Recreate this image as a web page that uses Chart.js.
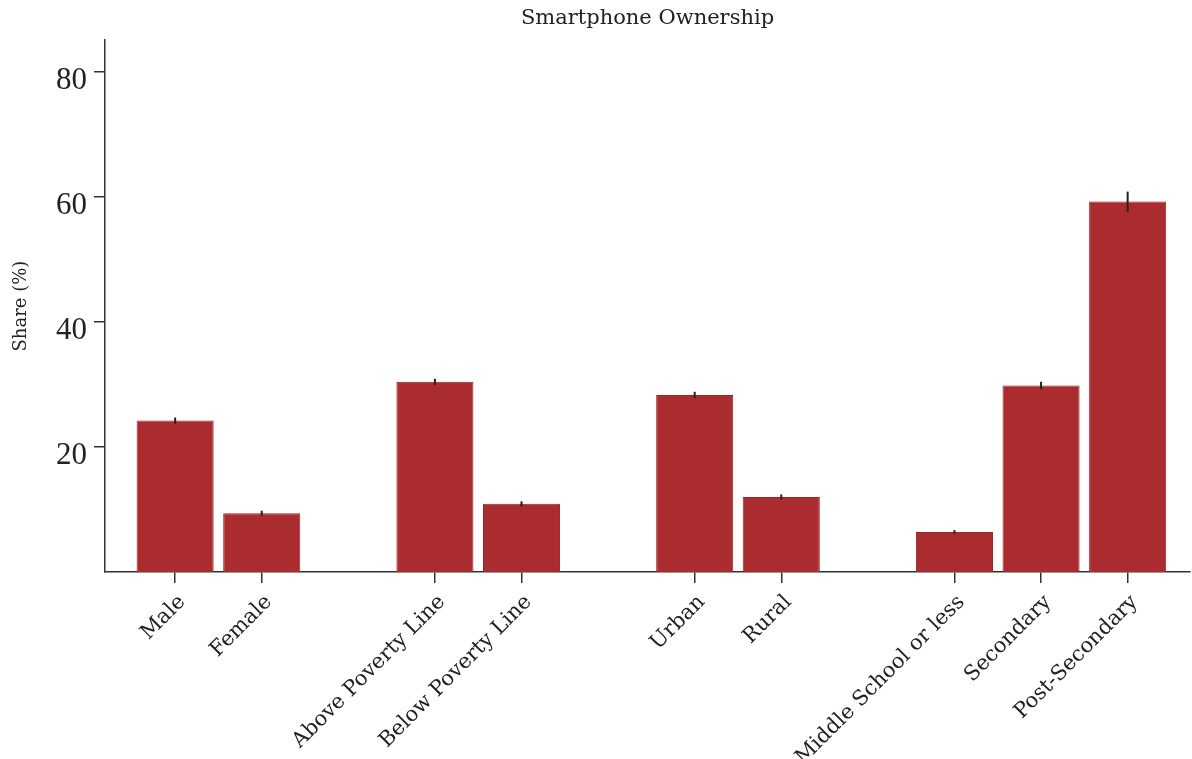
<!DOCTYPE html>
<html>
<head>
<meta charset="utf-8">
<title>Smartphone Ownership</title>
<script src="https://cdn.jsdelivr.net/npm/chart.js@4/dist/chart.umd.min.js"></script>
<style>
  body { margin: 0; background: #fff; }
  #chart { display: block; }
</style>
</head>
<body>
<canvas id="chart" width="1192" height="759"></canvas>
<script>
// data
const labels = ['Male', 'Female', 'Above Poverty Line', 'Below Poverty Line', 'Urban', 'Rural',
  'Middle School or less', 'Secondary', 'Post-Secondary'];
// slot of each bar on the x axis (an empty slot between groups)
const slots = [0, 1, 3, 4, 6, 7, 9, 10, 11];
const shares = [24.2, 9.4, 30.4, 10.9, 28.3, 12.0, 6.4, 29.8, 59.2];
const errors = [0.5, 0.4, 0.5, 0.4, 0.5, 0.4, 0.3, 0.6, 1.6];
const yTicks = [20, 40, 60, 80];

const serif = 'DejaVu Serif';
const ink = '#222';

// draw the small error bars on top of the bars
const errorBars = {
  id: 'errorBars',
  afterDatasetsDraw(chart) {
    const ctx = chart.ctx;
    const xs = chart.scales.x, ys = chart.scales.y;
    ctx.save();
    ctx.strokeStyle = ink;
    ctx.lineWidth = 2;
    shares.forEach((v, i) => {
      const x = xs.getPixelForValue(slots[i]);
      ctx.beginPath();
      ctx.moveTo(x, ys.getPixelForValue(v - errors[i]));
      ctx.lineTo(x, ys.getPixelForValue(v + errors[i]));
      ctx.stroke();
    });
    ctx.restore();
  }
};

const ctx = document.getElementById('chart').getContext('2d');
const chart = new Chart(ctx, {
  type: 'bar',
  data: {
    datasets: [{
      data: shares.map((v, i) => ({ x: slots[i], y: v })),
      backgroundColor: '#ab2c2e',
      borderColor: '#9c2527',
      borderWidth: 1,
      barPercentage: 0.89,
      categoryPercentage: 1
    }]
  },
  options: {
    responsive: false,
    animation: false,
    layout: { padding: { left: 0, right: 2, top: 0, bottom: 0 } },
    plugins: {
      legend: { display: false },
      tooltip: { enabled: false },
      title: {
        display: true,
        fullSize: false,
        text: 'Smartphone Ownership',
        color: ink,
        font: { family: serif, size: 21, weight: 'normal' },
        padding: { top: 6, bottom: 9 }
      }
    },
    scales: {
      x: {
        type: 'linear',
        offset: false,
        min: -0.81,
        max: 11.72,
        afterBuildTicks(scale) {
          scale.ticks = slots.map(s => ({ value: s }));
        },
        afterFit(scale) { scale.height = 187; },
        border: { display: true, color: '#333', width: 1.5 },
        grid: { offset: false, drawOnChartArea: false, drawTicks: true, tickLength: 11, color: '#333', lineWidth: 1.5 },
        ticks: {
          autoSkip: false,
          minRotation: 45,
          maxRotation: 45,
          padding: 7,
          labelOffset: 7,
          color: ink,
          font: { family: serif, size: 21 },
          callback: (value) => labels[slots.indexOf(value)]
        }
      },
      y: {
        min: 0,
        max: 85,
        afterBuildTicks(scale) {
          scale.ticks = yTicks.map(v => ({ value: v }));
        },
        afterFit(scale) { scale.width = 105; },
        border: { display: true, color: '#333', width: 1.5 },
        grid: { drawOnChartArea: false, drawTicks: true, tickLength: 11, color: '#333', lineWidth: 1.5 },
        ticks: {
          padding: 7,
          labelOffset: 9,
          color: ink,
          font: { family: 'Liberation Serif', size: 31 }
        },
        title: {
          display: true,
          text: 'Share (%)',
          color: ink,
          font: { family: serif, size: 18 },
          padding: { top: 11, bottom: 0 }
        }
      }
    }
  },
  plugins: [errorBars]
});
</script>
</body>
</html>
